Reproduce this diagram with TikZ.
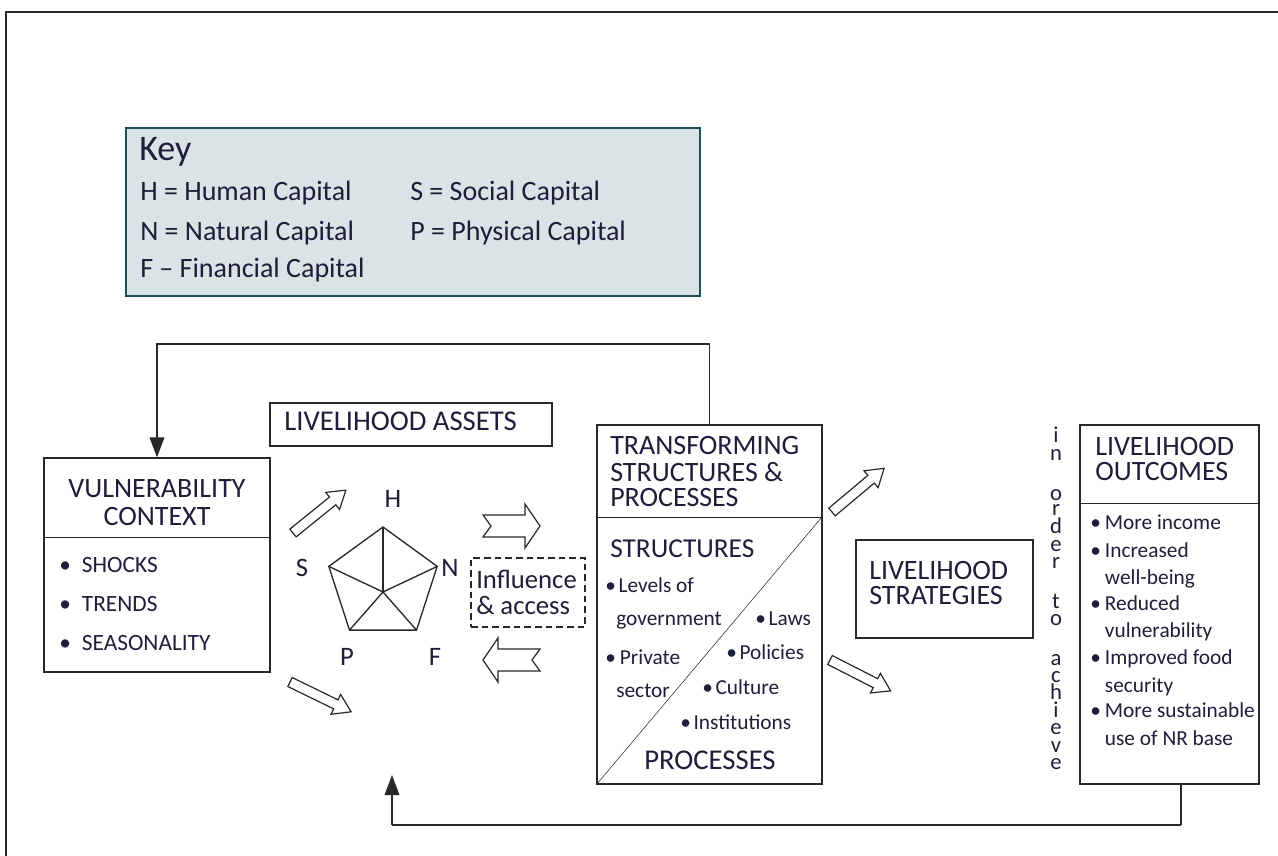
\documentclass[tikz,border=0pt]{standalone}
\usepackage{fontspec}
\setmainfont{Carlito}
\usetikzlibrary{arrows.meta,fit,calc}
\definecolor{ink}{RGB}{30,30,58}
\definecolor{rule}{RGB}{40,40,40}
\definecolor{keyfill}{RGB}{218,227,230}
\definecolor{keyline}{RGB}{28,78,88}
\newcommand{\itm}[1]{\makebox[#1][l]{\textbullet}}
\tikzset{
  box/.style={draw=rule, line width=1pt, inner sep=0pt},
  keybox/.style={draw=keyline, fill=keyfill, line width=2pt, inner sep=0pt},
  lbl/.style={text=ink, inner sep=0pt, anchor=mid west, yshift=-3.5pt},
  ttl/.style={lbl, font=\fontsize{21}{24}\selectfont},
  txt/.style={lbl, font=\fontsize{16}{19}\selectfont},
  mid20/.style={lbl, font=\fontsize{20}{23}\selectfont},
  loopline/.style={draw=rule, line width=1.4pt},
  tip/.style={-{Triangle[width=11pt,length=15pt]}},
  hollow/.pic={
    \draw[rule, line width=0.9pt, fill=white] (0,-5) -- (51,-5) -- (51,-11) -- (68,0)
      -- (51,11) -- (51,5) -- (0,5) -- cycle;
  },
  notched/.pic={
    \draw[rule, line width=0.9pt, fill=white] (0,-11) -- (42,-11) -- (42,-22) -- (57,0)
      -- (42,22) -- (42,11) -- (0,11) -- (8,0) -- cycle;
  }
}
\begin{document}
\begin{tikzpicture}[x=0.75pt,y=-0.75pt]
\useasboundingbox (0,0) rectangle (1278,856);
% frame
\draw[rule, line width=1.5pt] (6,856) -- (6,12) -- (1278,12);

% key
\node[keybox, fit={(126,128) (700,296)}] (key) {};
\node[lbl, font=\fontsize{27}{30}\selectfont] (keyt) at (139,153) {Key};
\foreach \t/\x/\y [count=\i] in {H = Human Capital/140/193, N = Natural Capital/140/233,
    F \textendash{} Financial Capital/140/270, S = Social Capital/410/193, P = Physical Capital/410/233}
  \node[lbl, font=\fontsize{21}{24}\selectfont] (key\i) at (\x,\y) {\t};

% vulnerability context
\node[box, fit={(44,458) (270,672)}] (vuln) {};
\draw[rule] (44,537) -- (270,537);
\node[ttl, anchor=mid] (vuln1) at (157,490) {VULNERABILITY};
\node[ttl, anchor=mid] (vuln2) at (157,518) {CONTEXT};
\foreach \t/\y [count=\i] in {SHOCKS/565, TRENDS/604, SEASONALITY/643}
  \node[lbl, font=\fontsize{17.5}{20}\selectfont] (vb\i) at (59,\y) {\itm{17pt}\t};

% livelihood assets
\node[box, fit={(270,403) (552,446)}] (assets) {};
\node[lbl, font=\fontsize{21.5}{24}\selectfont] (assetst) at (284,423) {LIVELIHOOD ASSETS};

\coordinate (pc) at (383,584);
\coordinate (hub) at (383,592);
\foreach \n/\a in {H/90,N/18,F/-54,P/-126,S/162}
  \coordinate (v\n) at ($(pc)+(\a:42.75pt)$);
\draw[rule, line width=1pt] (vH) -- (vN) -- (vF) -- (vP) -- (vS) -- cycle;
\foreach \n in {H,N,F,P,S}
  \draw[rule, line width=1pt] (hub) -- (v\n);
\node[mid20, anchor=mid] (lH) at (393,500) {H};
\node[mid20, anchor=mid] (lN) at (450,569) {N};
\node[mid20, anchor=mid] (lF) at (435,658) {F};
\node[mid20, anchor=mid] (lP) at (347,658) {P};
\node[mid20, anchor=mid] (lS) at (302,569) {S};

\pic[rotate=39] at (293,533) {hollow};
\pic[rotate=-26] at (290,682) {hollow};
\pic at (483,526) {notched};
\pic[rotate=180] at (540,660) {notched};

% influence & access
\node[draw=rule, dashed, dash pattern=on 5pt off 3pt, line width=0.9pt, inner sep=0pt,
  fit={(471,558) (585,627)}] (infl) {};
\node[mid20] (infl1) at (476,581) {Influence};
\node[mid20] (infl2) at (476,607) {\& access};

% transforming structures & processes
\node[box, fit={(597,425) (822,784)}] (trans) {};
\coordinate (tdiv) at (822,517);
\draw[rule] (597,517) -- (tdiv);
\draw[rule] (trans.south west) -- (tdiv);
\foreach \t/\y [count=\i] in {TRANSFORMING/447, STRUCTURES \&/474, PROCESSES/499}
  \node[ttl] (tt\i) at (610,\y) {\t};
\node[lbl, font=\fontsize{20.5}{24}\selectfont] (struc) at (610,550) {STRUCTURES};
\node[txt] (s1) at (605,585) {\itm{10pt}Levels of};
\node[txt] (s2) at (616,618) {government};
\node[txt] (s3) at (605,657) {\itm{11pt}Private};
\node[txt] (s4) at (616,690) {sector};
\node[txt] (p1) at (755,618) {\itm{10pt}Laws};
\node[txt] (p2) at (726,652) {\itm{10pt}Policies};
\node[txt] (p3) at (702,687) {\itm{10pt}Culture};
\node[txt] (p4) at (680,722) {\itm{10pt}Institutions};
\node[lbl, anchor=mid, font=\fontsize{21.5}{24}\selectfont] (proc) at (710,762) {PROCESSES};

\pic[rotate=40] at (832,512) {hollow};
\pic[rotate=-27] at (830,660) {hollow};

% livelihood strategies
\node[box, fit={(856,540) (1033,638)}] (strat) {};
\node[ttl] (strat1) at (869,572) {LIVELIHOOD};
\node[ttl] (strat2) at (869,597) {STRATEGIES};

% in order to achieve
\foreach \c/\y [count=\i] in {i/435,n/453,o/493,r/508,d/526,e/544,r/561,t/601,o/618,
    a/658,c/675,h/692,i/710,e/727,v/745,e/762}
  \node[text=ink, inner sep=0pt, anchor=mid, yshift=-3pt, font=\fontsize{17}{19}\selectfont] (ch\i) at (1056,\y) {\c};

% livelihood outcomes
\node[box, fit={(1080,425) (1259,784)}] (outc) {};
\draw[rule] (1080,503) -- (1259,503);
\node[ttl] (out1) at (1095,448) {LIVELIHOOD};
\node[ttl] (out2) at (1095,473) {OUTCOMES};
\foreach \t/\y [count=\i] in {\itm{11pt}More income/522, \itm{11pt}Increased/550,
    \hspace{11pt}well-being/577, \itm{11pt}Reduced/603, \hspace{11pt}vulnerability/630,
    \itm{11pt}Improved food/657, \hspace{11pt}security/685, \itm{11pt}More sustainable/710,
    \hspace{11pt}use of NR base/738}
  \node[txt] (o\i) at (1090,\y) {\t};

% feedback loops
\draw[loopline, tip] (trans.north) -- ++(0,-80) -| (vuln.north);
\coordinate (b1) at (1181,825);
\coordinate (b2) at (392,825);
\coordinate (bk) at (392,775);
\draw[rule, line width=1pt] (outc.south -| b1) -- (b1);
\draw[rule, line width=2.2pt] (b1) -- (b2);
\draw[rule, line width=1pt, tip] (b2) -- (bk);
\end{tikzpicture}
\end{document}
